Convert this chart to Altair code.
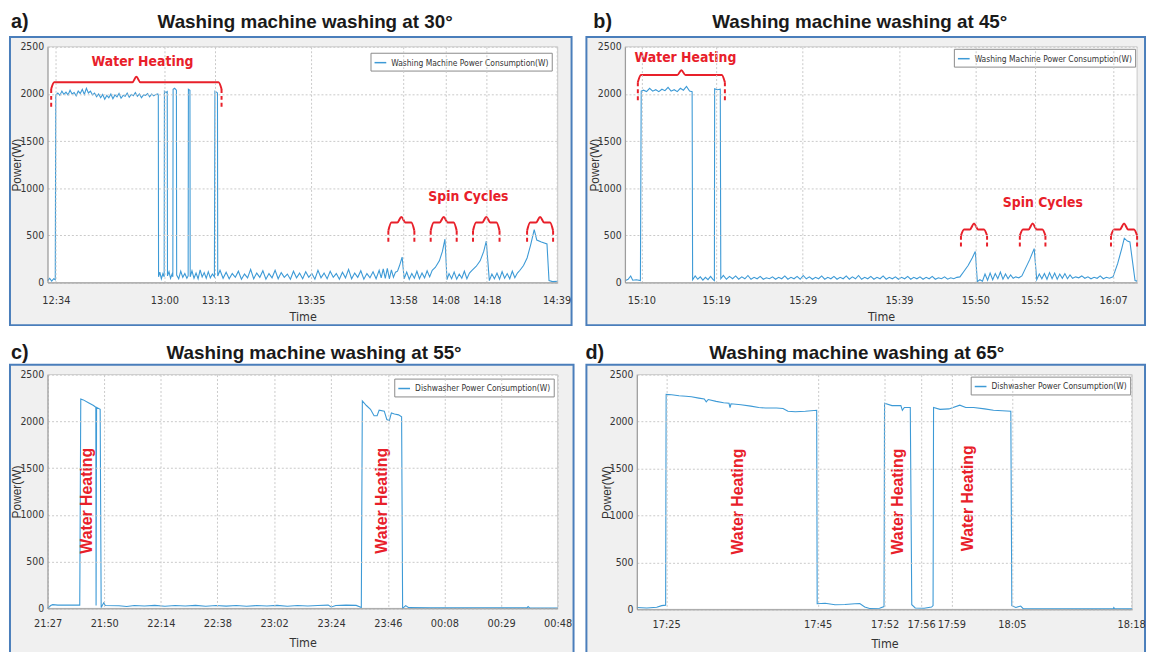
import altair as alt
import pandas as pd

# ---------------- text ----------------
TITLES = ["Washing machine washing at 30°", "Washing machine washing at 45°",
          "Washing machine washing at 55°", "Washing machine washing at 65°"]
LETTERS = ["a)", "b)", "c)", "d)"]
LEGEND_LABELS = ["Washing Machine Power Consumption(W)", "Washing Machine Power Consumption(W)",
                 "Dishwasher Power Consumption(W)", "Dishwasher Power Consumption(W)"]
X_TITLE = "Time"
Y_TITLE = "Power(W)"
Y_TICKS = [0, 500, 1000, 1500, 2000, 2500]

# ---------------- panel a (x = position along the time axis, 0-100) ----------------
A_TICKS = [1.6, 22.9, 32.9, 51.6, 69.7, 78.0, 86.1, 99.8]
A_LABELS = ["12:34", "13:00", "13:13", "13:35", "13:58", "14:08", "14:18", "14:39"]
A_POINTS = [
    (0.0, 20), (0.4, 45), (0.8, 15), (1.2, 40), (1.5, 30), (1.6, 1990), (2.0, 2010), (2.4, 1985),
    (2.8, 2030), (3.2, 1995), (3.6, 2020), (4.0, 1990), (4.4, 2040), (4.8, 2000), (5.2, 2015),
    (5.6, 1980), (6.0, 2030), (6.4, 2005), (6.8, 2050), (7.2, 1995), (7.6, 2060), (8.0, 2010),
    (8.4, 2030), (8.8, 1990), (9.2, 2010), (9.6, 1970), (10.0, 2000), (10.4, 1960), (10.8, 1995),
    (11.2, 1945), (11.6, 1985), (12.0, 1960), (12.4, 2000), (12.8, 1950), (13.2, 1990), (13.6, 1970),
    (14.0, 2005), (14.4, 1955), (14.8, 1985), (15.2, 1975), (15.6, 2010), (16.0, 1965), (16.4, 1995),
    (16.8, 1980), (17.2, 2015), (17.6, 1975), (18.0, 2000), (18.4, 1960), (18.8, 1990), (19.2, 1985),
    (19.6, 2005), (20.0, 1970), (20.4, 2000), (20.8, 1980), (21.2, 1995), (21.6, 2000), (21.7, 1985),
    (21.75, 60), (22.0, 110), (22.3, 40), (22.6, 95), (22.85, 60),
    (22.9, 2030), (23.2, 2015), (23.45, 2025), (23.5, 70), (23.8, 115), (24.1, 45), (24.4, 90), (24.55, 60),
    (24.6, 2050), (24.9, 2060), (25.25, 2040), (25.3, 80), (25.7, 40), (26.1, 120), (26.5, 55),
    (26.9, 95), (27.3, 45), (27.55, 70), (27.6, 2050), (27.9, 2040), (27.95, 60), (28.3, 125),
    (28.7, 45), (29.1, 100), (29.5, 40), (29.9, 135), (30.3, 60), (30.7, 105), (31.1, 45), (31.5, 115),
    (31.9, 50), (32.3, 90), (32.7, 60), (32.8, 2030), (33.1, 2020), (33.3, 2010), (33.35, 70),
    (33.8, 130), (34.4, 45), (35.0, 110), (35.6, 40), (36.2, 95), (36.8, 55), (37.4, 120), (38.0, 35),
    (38.6, 90), (39.2, 50), (39.8, 140), (40.4, 40), (41.0, 100), (41.6, 55), (42.2, 125), (42.8, 35),
    (43.4, 95), (44.0, 50), (44.6, 130), (45.2, 40), (45.8, 105), (46.4, 55), (47.0, 90), (47.6, 35),
    (48.2, 120), (48.8, 50), (49.4, 100), (50.0, 40), (50.6, 115), (51.2, 55), (51.8, 95), (52.4, 35),
    (53.0, 130), (53.6, 50), (54.2, 100), (54.8, 40), (55.4, 120), (56.0, 55), (56.6, 95), (57.2, 35),
    (57.8, 110), (58.4, 50), (59.0, 140), (59.6, 40), (60.2, 100), (60.8, 55), (61.4, 125), (62.0, 35),
    (62.6, 95), (63.2, 50), (63.8, 115), (64.4, 40), (65.0, 130), (65.4, 50), (65.8, 145), (66.2, 45),
    (66.6, 150), (67.0, 40), (67.4, 135), (67.8, 55), (68.2, 110), (68.6, 120), (69.0, 180), (69.5, 270),
    (69.9, 40), (70.4, 110), (70.9, 35), (71.4, 95), (71.9, 45), (72.4, 120), (72.9, 40), (73.4, 100),
    (73.9, 50), (74.4, 125), (74.9, 60), (75.4, 130), (76.0, 160), (76.8, 230), (77.4, 330), (77.9, 460),
    (78.3, 30), (78.7, 95), (79.2, 40), (79.7, 110), (80.2, 35), (80.7, 90), (81.2, 45), (81.7, 120),
    (82.2, 40), (82.7, 100), (83.2, 130), (84.0, 170), (84.8, 230), (85.5, 330), (86.0, 440), (86.6, 20),
    (87.1, 90), (87.6, 40), (88.1, 100), (88.6, 35), (89.1, 115), (89.6, 45), (90.1, 95), (90.6, 40),
    (91.1, 120), (91.6, 50), (92.1, 100), (92.6, 130), (93.3, 180), (94.0, 260), (94.7, 400), (95.4, 560),
    (95.9, 450), (96.8, 430), (97.9, 410), (98.3, 20), (99.0, 10), (100.0, 12),
]
A_NOTES = [("Water Heating", 18.6, 2340), ("Spin Cycles", 82.5, 906)]
# brace: x0, x1, y of the ends, y of the bar, y of the nub, y where the dashed end stops
A_BRACES = [(0.7, 34.1, 2053, 2123, 2182, 1850),
            (66.8, 71.9, 549, 636, 696, 427), (75.1, 80.2, 549, 636, 696, 427),
            (83.4, 88.6, 549, 636, 696, 427), (94.0, 99.1, 549, 636, 696, 427)]

# ---------------- panel b ----------------
B_TICKS = [3.2, 17.8, 34.7, 53.5, 68.4, 80.0, 95.3]
B_LABELS = ["15:10", "15:19", "15:29", "15:39", "15:50", "15:52", "16:07"]
B_POINTS = [
    (0.0, 20), (0.6, 35), (1.1, 70), (1.5, 25), (2.2, 30), (3.0, 20), (3.16, 2030), (3.6, 2040),
    (4.2, 2025), (4.8, 2060), (5.4, 2030), (6.0, 2045), (6.6, 2025), (7.2, 2050), (7.8, 2035),
    (8.4, 2070), (9.0, 2030), (9.6, 2045), (10.2, 2025), (10.8, 2060), (11.4, 2040), (12.0, 2080),
    (12.6, 2030), (13.1, 2025), (13.2, 30), (13.7, 70), (14.2, 35), (14.7, 60), (15.2, 25), (15.7, 55),
    (16.2, 30), (16.7, 65), (17.2, 30), (17.45, 20), (17.5, 2055), (18.0, 2045), (18.6, 2050), (18.7, 40),
    (19.2, 75), (19.8, 35), (20.4, 65), (21.0, 40), (21.6, 70), (22.2, 35), (22.8, 60), (23.4, 40),
    (24.0, 75), (24.6, 35), (25.2, 55), (25.8, 40), (26.4, 65), (27.0, 35), (27.6, 50), (28.2, 40),
    (28.8, 60), (29.4, 35), (30.0, 55), (30.6, 40), (31.2, 70), (31.8, 35), (32.4, 55), (33.0, 40),
    (33.6, 65), (34.2, 35), (34.8, 75), (35.4, 40), (36.0, 60), (36.6, 35), (37.2, 55), (37.8, 40),
    (38.4, 70), (39.0, 35), (39.6, 55), (40.2, 40), (40.8, 65), (41.4, 35), (42.0, 55), (42.6, 40),
    (43.2, 70), (43.8, 35), (44.4, 60), (45.0, 40), (45.6, 75), (46.2, 35), (46.8, 55), (47.4, 40),
    (48.0, 65), (48.6, 35), (49.2, 55), (49.8, 40), (50.4, 70), (51.0, 35), (51.6, 55), (52.2, 40),
    (52.8, 60), (53.4, 35), (54.0, 55), (54.6, 40), (55.2, 65), (55.8, 35), (56.4, 55), (57.0, 40),
    (57.6, 60), (58.2, 35), (58.8, 55), (59.4, 40), (60.0, 65), (60.6, 35), (61.2, 50), (61.8, 40),
    (62.4, 60), (63.0, 35), (63.6, 50), (64.2, 40), (64.8, 55), (65.4, 60), (66.2, 120), (67.0, 180),
    (67.8, 260), (68.4, 330), (68.8, 10), (69.3, 30), (69.8, 15), (70.3, 90), (70.8, 25), (71.3, 100),
    (71.8, 30), (72.3, 95), (72.8, 40), (73.3, 110), (73.8, 35), (74.3, 90), (74.8, 40), (75.3, 80),
    (75.8, 45), (76.3, 60), (76.9, 50), (77.5, 70), (78.2, 150), (79.0, 240), (79.9, 360), (80.4, 30),
    (80.9, 90), (81.4, 40), (81.9, 95), (82.4, 35), (82.9, 105), (83.4, 40), (83.9, 100), (84.4, 35),
    (84.9, 90), (85.4, 45), (85.9, 95), (86.4, 40), (86.9, 80), (87.4, 45), (88.0, 60), (88.6, 50),
    (89.2, 70), (89.8, 45), (90.4, 60), (91.0, 40), (91.6, 55), (92.2, 45), (92.8, 70), (93.4, 40),
    (94.0, 55), (94.6, 45), (95.3, 60), (96.2, 200), (97.0, 360), (97.5, 470), (98.1, 440), (98.6, 430),
    (99.6, 20), (100.0, 15),
]
B_NOTES = [("Water Heating", 11.8, 2385), ("Spin Cycles", 81.6, 846)]
B_BRACES = [(2.5, 19.5, 2123, 2200, 2252, 1920),
            (65.6, 70.7, 497, 563, 626, 367), (77.1, 82.1, 497, 563, 626, 367),
            (94.9, 100.0, 497, 563, 626, 367)]

# ---------------- panel c ----------------
C_TICKS = [0.0, 11.1, 22.2, 33.3, 44.4, 55.6, 66.7, 77.8, 88.9, 100.0]
C_LABELS = ["21:27", "21:50", "22:14", "22:38", "23:02", "23:24", "23:46", "00:08", "00:29", "00:48"]
C_POINTS = [
    (0.0, 0), (0.6, 30), (1.0, 40), (2.0, 35), (4.0, 35), (6.3, 35), (6.5, 2240), (7.0, 2230),
    (8.0, 2200), (9.0, 2170), (9.45, 2150), (9.5, 30), (9.6, 2150), (10.3, 2130), (10.5, 10),
    (11.0, 60), (11.3, 30), (14.0, 28), (15.5, 20), (17.0, 30), (19.0, 25), (21.0, 32), (23.0, 22),
    (25.0, 30), (27.0, 25), (29.0, 32), (31.0, 22), (33.0, 30), (35.0, 24), (37.0, 30), (39.0, 22),
    (41.0, 30), (43.0, 25), (45.0, 32), (47.0, 22), (49.0, 30), (51.0, 25), (53.0, 30), (55.0, 35),
    (55.6, 15), (56.5, 30), (58.5, 35), (60.5, 32), (61.5, 10), (61.7, 2220), (62.5, 2170),
    (63.3, 2130), (64.0, 2060), (64.6, 2060), (65.0, 2120), (66.0, 2110), (66.5, 2020), (67.0, 2010),
    (67.4, 2090), (68.0, 2080), (68.8, 2070), (69.4, 2050), (69.6, 0), (70.2, 30), (70.8, 8),
    (75.0, 5), (80.0, 5), (85.0, 6), (90.0, 5), (94.0, 5), (94.2, 20), (94.5, 5), (100.0, 4),
]
C_NOTES = [("Water Heating", 7.7, 1151), ("Water Heating", 65.6, 1151)]

# ---------------- panel d ----------------
D_TICKS = [5.9, 36.5, 50.0, 57.4, 63.5, 75.7, 99.8]
D_LABELS = ["17:25", "17:45", "17:52", "17:56", "17:59", "18:05", "18:18"]
D_POINTS = [
    (0.0, 20), (2.0, 15), (4.0, 22), (5.0, 40), (5.8, 45), (5.9, 2290), (7.0, 2285), (8.5, 2275),
    (9.9, 2270), (11.0, 2265), (12.5, 2250), (13.6, 2240), (14.0, 2210), (14.4, 2235), (16.0, 2215),
    (17.5, 2200), (18.6, 2195), (18.8, 2150), (19.0, 2190), (21.0, 2180), (23.0, 2165), (24.6, 2150),
    (26.0, 2145), (28.2, 2145), (29.5, 2140), (30.5, 2110), (32.0, 2105), (34.0, 2110), (36.3, 2120),
    (36.4, 60), (38.0, 65), (40.0, 50), (42.0, 52), (44.0, 60), (45.0, 62), (46.0, 25), (47.0, 10),
    (49.0, 12), (49.9, 30), (50.0, 2195), (51.5, 2170), (53.3, 2170), (53.6, 2120), (54.0, 2150),
    (55.2, 2150), (55.5, 50), (56.2, 15), (58.0, 12), (59.5, 25), (59.8, 40), (59.9, 2150),
    (61.2, 2130), (63.0, 2135), (65.2, 2175), (66.4, 2150), (68.0, 2150), (70.2, 2135), (72.0, 2120),
    (75.5, 2110), (75.7, 40), (76.5, 20), (77.5, 35), (78.0, 8), (85.0, 6), (92.0, 5), (96.2, 6),
    (96.3, 20), (96.5, 6), (100.0, 5),
]
D_NOTES = [("Water Heating", 20.4, 1148), ("Water Heating", 52.7, 1148), ("Water Heating", 66.8, 1183)]

# ---------------- style ----------------
BLUE = "#3d9ad6"
RED = "#e8202a"
FRAME = "#4a7ebb"
PANEL_BG = "#f0f0f0"
NARROW = "Liberation Sans Narrow, DejaVu Sans Condensed, Liberation Sans, sans-serif"
SANS = "Liberation Sans, Arial, sans-serif"


def label_expr(ticks, labels):
    expr = "''"
    for t, l in reversed(list(zip(ticks, labels))):
        expr = f"datum.value == {t} ? '{l}' : ({expr})"
    return expr


def panel(i, points, ticks, labels, notes, braces, w, h, box, letter_x, head_y, title_x,
          legend_offset, rotated, label_pad):
    one = pd.DataFrame({"k": [0]})
    df = pd.DataFrame(points, columns=["t", "p"])
    df["s"] = LEGEND_LABELS[i]
    xs = alt.Scale(domain=[0, 100], nice=False, zero=False)
    ys = alt.Scale(domain=[0, 2500], nice=False)
    xaxis = alt.Axis(values=ticks, labelExpr=label_expr(ticks, labels), title=X_TITLE,
                     grid=True, gridDash=[2, 2], gridColor="#c9c9c9", ticks=False,
                     domainColor="#9a9a9a", labelFont=NARROW, labelFontSize=11,
                     labelColor="#333333", labelPadding=label_pad, labelOverlap=False,
                     labelFlush=False, labelBound=False, titleFont=NARROW,
                     titleFontSize=12.5, titleFontWeight="normal", titleColor="#333333",
                     titleBaseline="middle", titleY=34, zindex=1)
    yaxis = alt.Axis(values=Y_TICKS, format="d", title=Y_TITLE, grid=True, gridDash=[2, 2],
                     gridColor="#c9c9c9", ticks=False, domainColor="#9a9a9a",
                     labelFont=NARROW, labelFontSize=10.5, labelColor="#333333",
                     labelPadding=4, titleFont=SANS, titleFontSize=12,
                     titleFontWeight="normal", titleColor="#333333",
                     titleX=-31, titleBaseline="middle", zindex=1)
    bx0, by0, bx1, by1 = box
    frame = alt.Chart(one).mark_rect(fill=PANEL_BG, stroke=FRAME, strokeWidth=2).encode(
        x=alt.value(bx0), x2=alt.value(bx1), y=alt.value(by0), y2=alt.value(by1))
    plotbg = alt.Chart(one).mark_rect(fill="white", stroke="#c8c8c8", strokeWidth=1).encode(
        x=alt.value(0), x2=alt.value(w), y=alt.value(0), y2=alt.value(h))
    letter = alt.Chart(one).mark_text(text=LETTERS[i], align="left", baseline="alphabetic",
                                      font=SANS, fontSize=20, fontWeight="bold",
                                      color="#1a1a1a").encode(
        x=alt.value(letter_x), y=alt.value(head_y))
    head = alt.Chart(one).mark_text(text=TITLES[i], align="center", baseline="alphabetic",
                                    font=SANS, fontSize=19, fontWeight="bold",
                                    color="#1a1a1a").encode(
        x=alt.value(title_x), y=alt.value(head_y))
    line = alt.Chart(df).mark_line(strokeWidth=1.1).encode(
        x=alt.X("t:Q", scale=xs, axis=xaxis),
        y=alt.Y("p:Q", scale=ys, axis=yaxis),
        color=alt.Color("s:N", scale=alt.Scale(range=[BLUE]),
                        legend=alt.Legend(title=None, orient="top-right", offset=legend_offset,
                                          padding=3, strokeColor="#8a8a8a", fillColor="white",
                                          labelFont=NARROW, labelFontSize=8.5, labelLimit=400,
                                          labelColor="#333333", symbolType="stroke",
                                          symbolStrokeWidth=1.5, symbolSize=140,
                                          cornerRadius=0)))
    layers = [frame, plotbg, letter, head, line]

    nd = pd.DataFrame(notes, columns=["label", "t", "p"])
    if rotated:
        notes_layer = alt.Chart(nd).mark_text(angle=270, font=SANS, fontSize=16,
                                              fontWeight="bold", color=RED)
    else:
        notes_layer = alt.Chart(nd).mark_text(font=NARROW, fontSize=14, fontWeight="bold",
                                              color=RED)
    layers.append(notes_layer.encode(x="t:Q", y="p:Q", text="label:N"))

    if braces:
        rows = []
        ends = []
        for k, (x0, x1, ye, yl, yn, yd) in enumerate(braces):
            mid = (x0 + x1) / 2
            for j, (tx, py) in enumerate([(x0, ye), (x0 + 0.6, yl), (mid - 0.8, yl), (mid, yn),
                                          (mid + 0.8, yl), (x1 - 0.6, yl), (x1, ye)]):
                rows.append({"b": k, "o": j, "t": tx, "p": py})
            ends.append({"t": x0, "p": ye, "p2": yd})
            ends.append({"t": x1, "p": ye, "p2": yd})
        bdf = pd.DataFrame(rows)
        edf = pd.DataFrame(ends)
        layers.append(alt.Chart(bdf).mark_line(color=RED, strokeWidth=2,
                                                interpolate="monotone").encode(
            x="t:Q", y="p:Q", detail="b:N", order="o:Q"))
        layers.append(alt.Chart(edf).mark_rule(color=RED, strokeWidth=2,
                                                strokeDash=[4, 3]).encode(
            x="t:Q", y="p:Q", y2="p2:Q"))
    return alt.layer(*layers).properties(width=w, height=h)


pa = panel(0, A_POINTS, A_TICKS, A_LABELS, A_NOTES, A_BRACES, 515, 238,
           (-38, -10, 529, 281), -37, -19, 260, 6, False, 12)
pb = panel(1, B_POINTS, B_TICKS, B_LABELS, B_NOTES, B_BRACES, 517, 238,
           (-39, -10, 525, 281), -32, -19, 237, 2, False, 12)
pc = panel(2, C_POINTS, C_TICKS, C_LABELS, C_NOTES, None, 515, 236,
           (-38, -10, 531, 290), -37, -16, 269, 4, True, 9)
pd_ = panel(3, D_POINTS, D_TICKS, D_LABELS, D_NOTES, None, 500, 237,
            (-51, -10, 513, 290), -52, -16, 222, 2, True, 9)

row1 = alt.hconcat(pa, pb, spacing=11).resolve_scale(color="independent").resolve_legend(color="independent")
row2 = alt.hconcat(pc, pd_, spacing=9).resolve_scale(color="independent").resolve_legend(color="independent")

chart = alt.vconcat(row1, row2, spacing=15).resolve_scale(
    color="independent"
).resolve_legend(
    color="independent"
).properties(
    padding={"left": 0, "top": 0, "right": 0, "bottom": 0}
).configure_view(stroke="transparent")

chart.save("out.html", embed_options={"renderer": "svg", "actions": False})
